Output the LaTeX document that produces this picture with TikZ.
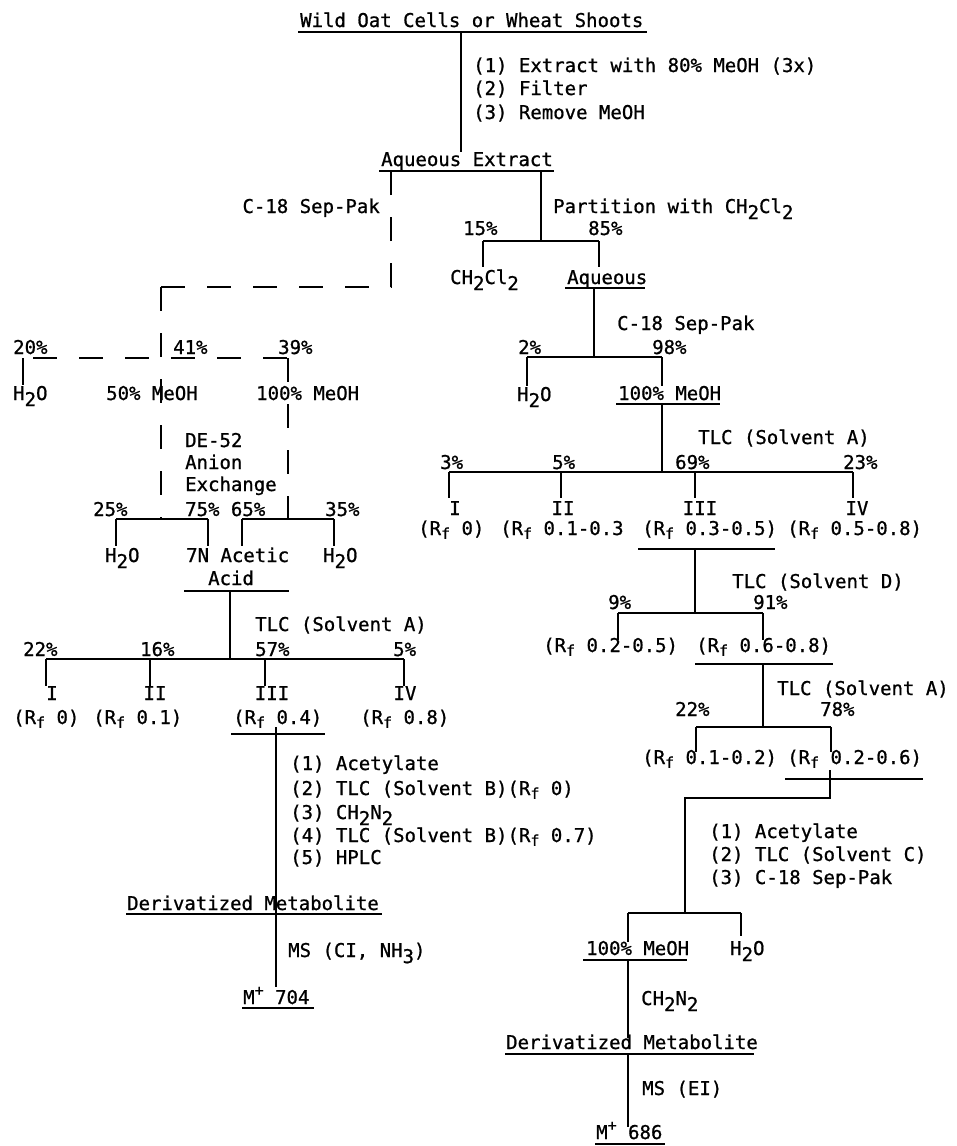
\documentclass[tikz,border=0pt]{standalone}
\usepackage{fontspec}
\setmainfont{DejaVu Sans Mono}[FakeBold=0.9]
\newcommand{\dn}[1]{\raisebox{-0.32em}{#1}}
\newcommand{\Rf}{R\raisebox{-0.2em}{\fontsize{15}{15}\selectfont f}}
\newcommand{\up}[1]{\raisebox{0.45em}{\fontsize{15}{15}\selectfont #1}}
\begin{document}
\begin{tikzpicture}[x=1pt,y=-1pt,
  txt/.style={anchor=base west, inner sep=0pt, font=\fontsize{19}{23}\selectfont},
  txe/.style={anchor=base east, inner sep=0pt, font=\fontsize{19}{23}\selectfont},
  txc/.style={anchor=base, inner sep=0pt, font=\fontsize{19}{23}\selectfont},
  vl/.style={line width=1.8pt},
  hl/.style={line width=2.4pt},
  ul/.style={line width=2pt},
  dl/.style={line width=1.8pt, dash pattern=on 24pt off 22pt}]
\useasboundingbox (0,0) rectangle (956,1146);

% ---------- top ----------
\node[txt] (title) at (300,27) {Wild Oat Cells or Wheat Shoots};
\draw[ul] (298,32) -- (647,32);
\node[txt] (s1) at (473,72) {(1) Extract with 80\% MeOH (3x)};
\node[txt] (s2) at (473,95) {(2) Filter};
\node[txt] (s3) at (473,119) {(3) Remove MeOH};
\coordinate (t0) at (461,32); \coordinate (t1) at (461,152);
\draw[vl] (t0) -- (t1);

\node[txt] (aqx) at (381,166) {Aqueous Extract};
\draw[ul] (379,171) -- (554,171);

% ---------- dashed Sep-Pak branch ----------
\node[txe] (sep1) at (380,213) {C-18 Sep-Pak};
\coordinate (d0) at (391,171); \coordinate (d1) at (391,287);
\coordinate (d2) at (161,287); \coordinate (d3) at (161,519);
\draw[dl] (d2) -- (d1) -- (d0);
\draw[dl] (d2) -- (d3);
\coordinate (f0) at (23,358); \coordinate (f1) at (288,358);
\coordinate (f2) at (288,519);
\draw[dl, dash phase=-10pt] (f0) -- (f1);
\draw[dl] (f1) -- (f2);
\draw[vl] (f0) -- (23,385);
\node[txt] (p20) at (13,354) {20\%};
\node[txt] (p41) at (173,354) {41\%};
\node[txt] (p39) at (278,354) {39\%};
\node[txt] (w1) at (13,400) {H\dn{2}O};
\node[txt] (m50) at (106,400) {50\% MeOH};
\node[txt] (m100a) at (256,400) {100\% MeOH};
\node[txt] (de1) at (185,447) {DE-52};
\node[txt] (de2) at (185,469) {Anion};
\node[txt] (de3) at (185,491) {Exchange};
\node[txt] (p25) at (93,516) {25\%};
\node[txt] (p7565) at (185,516) {75\% 65\%};
\node[txt] (p35) at (325,516) {35\%};
\draw[hl] (116,519) -- (208,519);
\draw[hl] (242,519) -- (334,519);
\draw[vl] (116,519) -- (116,546);
\draw[vl] (208,519) -- (208,546);
\draw[vl] (242,519) -- (242,546);
\draw[vl] (334,519) -- (334,546);
\node[txt] (w2) at (105,562) {H\dn{2}O};
\node[txt] (ac1) at (186,562) {7N Acetic};
\node[txt] (w3) at (323,562) {H\dn{2}O};
\node[txt] (ac2) at (208,585) {Acid};
\draw[ul] (184,591) -- (289,591);
\draw[vl] (230,591) -- (230,659);
\node[txt] (tlcL) at (255,631) {TLC (Solvent A)};
\node[txt] (p22a) at (23,656) {22\%};
\node[txt] (p16) at (140,656) {16\%};
\node[txt] (p57) at (255,656) {57\%};
\node[txt] (p5a) at (393,656) {5\%};
\draw[hl] (46,659) -- (404,659);
\foreach \x in {46,150,265,404} \draw[vl] (\x,659) -- (\x,686);
\node[txc] (r1) at (52,700) {I};
\node[txc] (r2) at (155,700) {II};
\node[txc] (r3) at (272,700) {III};
\node[txc] (r4) at (405,700) {IV};
\node[txt] (rfa) at (13,724) {(\Rf{} 0)};
\node[txt] (rfb) at (93,724) {(\Rf{} 0.1)};
\node[txt] (rfc) at (233,724) {(\Rf{} 0.4)};
\node[txt] (rfd) at (360,724) {(\Rf{} 0.8)};
\draw[ul] (231,734) -- (325,734);
\draw[vl] (276,727) -- (276,987);
\node[txt] (l1) at (290,770) {(1) Acetylate};
\node[txt] (l2) at (290,795) {(2) TLC (Solvent B)(\Rf{} 0)};
\node[txt] (l3) at (290,819) {(3) CH\dn{2}N\dn{2}};
\node[txt] (l4) at (290,842) {(4) TLC (Solvent B)(\Rf{} 0.7)};
\node[txt] (l5) at (290,864) {(5) HPLC};
\node[txt] (dmL) at (127,910) {Derivatized Metabolite};
\draw[ul] (126,914) -- (382,914);
\node[txt] (msL) at (288,957) {MS (CI, NH\dn{3})};
\node[txt] (m704) at (243,1004) {M\up{+} 704};
\draw[ul] (242,1008) -- (314,1008);

% ---------- partition branch ----------
\node[txt] (part) at (553,213) {Partition with CH\dn{2}Cl\dn{2}};
\draw[vl] (541,171) -- (541,241);
\node[txt] (p15) at (463,235) {15\%};
\node[txt] (p85) at (588,235) {85\%};
\draw[hl] (483,241) -- (599,241);
\draw[vl] (483,241) -- (483,267);
\draw[vl] (599,241) -- (599,267);
\node[txt] (ch2cl2) at (450,284) {CH\dn{2}Cl\dn{2}};
\node[txt] (aq) at (567,284) {Aqueous};
\draw[ul] (565,288) -- (645,288);
\draw[vl] (594,288) -- (594,357);
\node[txt] (sep2) at (617,330) {C-18 Sep-Pak};
\node[txt] (p2) at (518,354) {2\%};
\node[txt] (p98) at (652,354) {98\%};
\draw[hl] (527,357) -- (662,357);
\draw[vl] (527,357) -- (527,386);
\draw[vl] (662,357) -- (662,386);
\node[txt] (w4) at (517,401) {H\dn{2}O};
\node[txt] (m100b) at (618,400) {100\% MeOH};
\draw[ul] (616,404) -- (720,404);
\draw[vl] (662,404) -- (662,472);
\node[txt] (tlcR1) at (698,444) {TLC (Solvent A)};
\node[txt] (p3) at (440,469) {3\%};
\node[txt] (p5b) at (552,469) {5\%};
\node[txt] (p69) at (675,469) {69\%};
\node[txt] (p23) at (843,469) {23\%};
\draw[hl] (449,472) -- (853,472);
\foreach \x in {449,561,695,853} \draw[vl] (\x,472) -- (\x,498);
\node[txc] (q1) at (455,515) {I};
\node[txc] (q2) at (563,515) {II};
\node[txc] (q3) at (700,515) {III};
\node[txc] (q4) at (857,515) {IV};
\node[txt] (rfe) at (418,535) {(\Rf{} 0)};
\node[txt] (rff) at (500,535) {(\Rf{} 0.1-0.3};
\node[txt] (rfg) at (642,535) {(\Rf{} 0.3-0.5)};
\node[txt] (rfh) at (787,535) {(\Rf{} 0.5-0.8)};
\draw[ul] (638,549) -- (775,549);
\draw[vl] (695,549) -- (695,613);
\node[txt] (tlcD) at (732,588) {TLC (Solvent D)};
\node[txt] (p9) at (608,609) {9\%};
\node[txt] (p91) at (753,609) {91\%};
\draw[hl] (618,613) -- (763,613);
\draw[vl] (618,613) -- (618,640);
\draw[vl] (763,613) -- (763,640);
\node[txt] (rfi) at (543,652) {(\Rf{} 0.2-0.5)};
\node[txt] (rfj) at (696,652) {(\Rf{} 0.6-0.8)};
\draw[ul] (695,664) -- (833,664);
\draw[vl] (763,664) -- (763,727);
\node[txt] (tlcR2) at (777,695) {TLC (Solvent A)};
\node[txt] (p22b) at (675,716) {22\%};
\node[txt] (p78) at (820,716) {78\%};
\draw[hl] (696,727) -- (831,727);
\draw[vl] (696,727) -- (696,752);
\draw[vl] (831,727) -- (831,752);
\node[txt] (rfk) at (642,764) {(\Rf{} 0.1-0.2)};
\node[txt] (rfl) at (787,764) {(\Rf{} 0.2-0.6)};
\draw[ul] (785,779) -- (923,779);
\draw[vl] (830,770) -- (830,798) -- (685,798) -- (685,913);
\node[txt] (k1) at (709,838) {(1) Acetylate};
\node[txt] (k2) at (709,861) {(2) TLC (Solvent C)};
\node[txt] (k3) at (709,884) {(3) C-18 Sep-Pak};
\draw[hl] (628,913) -- (741,913);
\draw[vl] (628,913) -- (628,942);
\draw[vl] (741,913) -- (741,936);
\node[txt] (m100c) at (586,955) {100\% MeOH};
\node[txt] (w5) at (730,955) {H\dn{2}O};
\draw[ul] (583,960) -- (687,960);
\draw[vl] (628,960) -- (628,1038);
\node[txt] (ch2n2) at (641,1005) {CH\dn{2}N\dn{2}};
\node[txt] (dmR) at (506,1049) {Derivatized Metabolite};
\draw[ul] (505,1054) -- (754,1054);
\draw[vl] (628,1054) -- (628,1127);
\node[txt] (msR) at (642,1095) {MS (EI)};
\node[txt] (m686) at (596,1139) {M\up{+} 686};
\draw[ul] (595,1144) -- (665,1144);
\end{tikzpicture}
\end{document}
